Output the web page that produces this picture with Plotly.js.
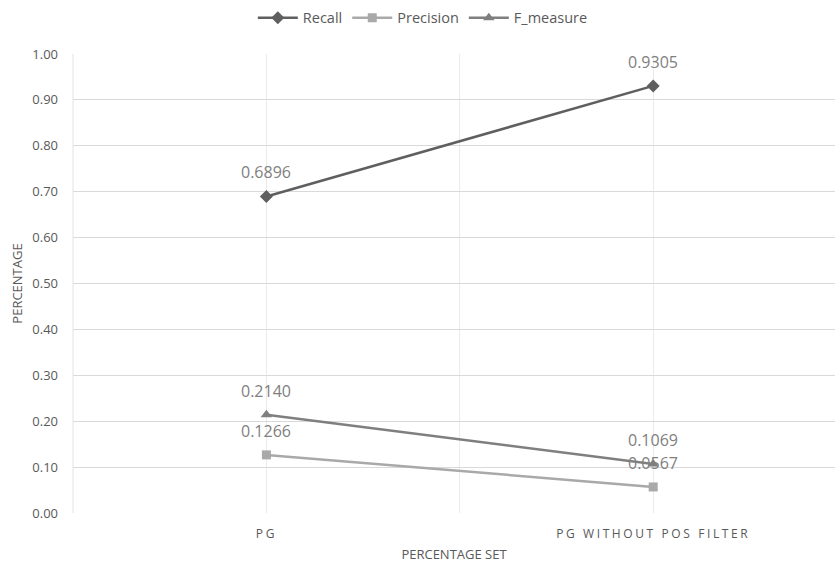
<!DOCTYPE html>
<html>
<head>
<meta charset="utf-8">
<script src="https://cdn.plot.ly/plotly-3.0.1.min.js"></script>
<style>
html, body { margin: 0; padding: 0; background: #fff; overflow: hidden; }
#chart { width: 835px; height: 563px; }
.xtick text { letter-spacing: 2.6px; }
</style>
</head>
<body>
<div id="chart"></div>
<script>
const categories = ["PG", "PG WITHOUT POS FILTER"];
const recall = [0.6896, 0.9305];
const precision = [0.1266, 0.0567];
const fMeasure = [0.2140, 0.1069];
const yTicks = [0, 0.1, 0.2, 0.3, 0.4, 0.5, 0.6, 0.7, 0.8, 0.9, 1.0];

const xPos = categories.map((c, i) => i);
const fmt = v => v.toFixed(4);
const font = "Open Sans, Noto Sans, sans-serif";

function series(name, vals, color, symbol, size) {
  return {
    type: "scatter",
    mode: "lines+markers",
    name: name,
    x: xPos,
    y: vals,
    line: { color: color, width: 2.5 },
    marker: { color: color, symbol: symbol, size: size },
    cliponaxis: false,
    hoverinfo: "x+y"
  };
}

const data = [
  series("Recall", recall, "#5f5f5f", "diamond", 10),
  series("Precision", precision, "#a9a9a9", "square", 9),
  series("F_measure", fMeasure, "#7f7f7f", "triangle-up", 10)
];

const annotations = [];
[recall, precision, fMeasure].forEach(vals => {
  vals.forEach((v, i) => {
    annotations.push({
      x: xPos[i], y: v, xref: "x", yref: "y",
      text: fmt(v), showarrow: false,
      yanchor: "middle", xanchor: "center", yshift: 24,
      font: { family: font, size: 16, color: "#808080" }
    });
  });
});

const tickVals = [-0.5, 0, 0.5, 1, 1.5];
const tickText = ["", categories[0], "", categories[1], ""];

const layout = {
  width: 835,
  height: 563,
  margin: { l: 73, r: 0, t: 54, b: 50 },
  paper_bgcolor: "#ffffff",
  plot_bgcolor: "#ffffff",
  font: { family: font, color: "#595959", size: 12 },
  showlegend: true,
  legend: {
    orientation: "h",
    x: 0.236, xanchor: "left",
    y: 1.079, yanchor: "middle",
    font: { family: font, size: 14.5, color: "#595959" },
    itemwidth: 40,
    tracegroupgap: 0
  },
  annotations: annotations,
  xaxis: {
    range: [-0.5, 1.47],
    tickmode: "array",
    tickvals: tickVals,
    ticktext: tickText,
    showgrid: true,
    gridcolor: "#ebebeb",
    gridwidth: 1,
    zeroline: false,
    showline: false,
    ticks: "",
    ticklabelstandoff: 12,
    tickfont: { family: font, size: 12, color: "#595959" },
    title: { text: "PERCENTAGE SET", font: { family: font, size: 13, color: "#595959" }, standoff: 16 },
    fixedrange: true
  },
  yaxis: {
    range: [0, 1.0],
    tickmode: "array",
    tickvals: yTicks,
    ticktext: yTicks.map(v => v.toFixed(2)),
    showgrid: true,
    gridcolor: "#d9d9d9",
    gridwidth: 1,
    zeroline: false,
    showline: false,
    ticks: "",
    ticklabelstandoff: 14,
    tickfont: { family: font, size: 13, color: "#595959" },
    title: { text: "PERCENTAGE", font: { family: font, size: 13, color: "#595959" }, standoff: 6 },
    fixedrange: true
  },
  shapes: [
    { type: "line", xref: "paper", yref: "paper", x0: 0, x1: 0, y0: 0, y1: 1, line: { color: "#e3e3e3", width: 1 } }
  ]
};

Plotly.newPlot("chart", data, layout, { displayModeBar: false, staticPlot: true });
</script>
</body>
</html>
